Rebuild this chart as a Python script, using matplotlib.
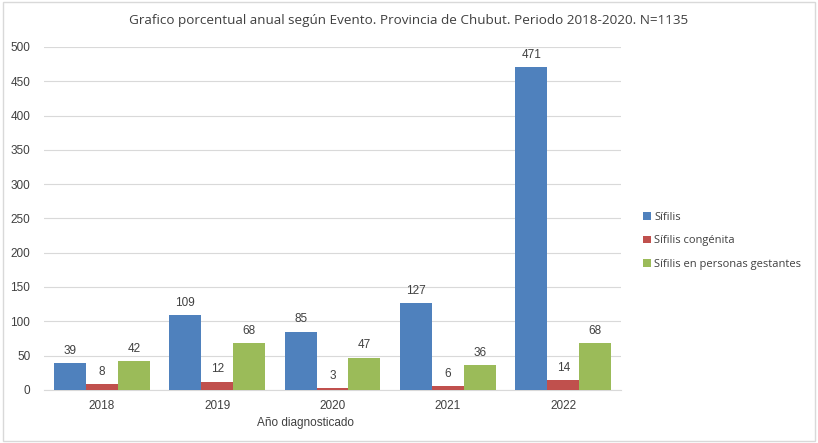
import numpy as np
import matplotlib.pyplot as plt
from matplotlib.patches import Rectangle

years = ["2018", "2019", "2020", "2021", "2022"]
sifilis = [39, 109, 85, 127, 471]
congenita = [8, 12, 3, 6, 14]
gestantes = [42, 68, 47, 36, 68]
series_names = ["Sífilis", "Sífilis congénita", "Sífilis en personas gestantes"]
colors = ["#4F81BD", "#C0504D", "#9BBB59"]

plt.rcParams["font.family"] = ["Liberation Sans", "DejaVu Sans"]
text_color = "#404040"

fig = plt.figure(figsize=(8.18, 4.43), dpi=100)
ax = fig.add_axes([0.054, 0.12, 0.705, 0.774])

x = np.arange(len(years))
w = 0.277
for i, (vals, name, c) in enumerate(zip([sifilis, congenita, gestantes], series_names, colors)):
    pos = x + (i - 1) * w
    bars = ax.bar(pos, vals, width=w, color=c, label=name, zorder=3)
    for b, v in zip(bars, vals):
        ax.text(b.get_x() + b.get_width() / 2, v + 9, str(v), ha="center", va="bottom",
                fontsize=8.5, color=text_color)

ax.set_xlim(-0.5, len(years) - 0.5)
ax.set_ylim(0, 500)
ax.set_yticks(np.arange(0, 501, 50))
ax.set_xticks(x)
ax.set_xticklabels(years)
ax.tick_params(length=0, labelsize=8.5, colors=text_color)
ax.tick_params(axis="y", pad=10)
ax.tick_params(axis="x", pad=7)
ax.grid(axis="y", color="#D9D9D9", linewidth=0.8, zorder=0)
for s in ["top", "right", "left"]:
    ax.spines[s].set_visible(False)
ax.spines["bottom"].set_color("#D9D9D9")

fig.text(0.373, 0.046, "Año diagnosticado", ha="center", va="center", fontsize=8.5, color=text_color)
fig.text(0.5, 0.953, "Grafico porcentual anual según Evento. Provincia de Chubut. Periodo 2018-2020. N=1135",
         ha="center", va="center", fontsize=9.7, color=text_color, family=["Open Sans", "DejaVu Sans"])

leg = fig.legend(loc="upper left", bbox_to_anchor=(0.774, 0.545), frameon=False,
                 handlelength=0.7, handleheight=0.7, handletextpad=0.3, labelspacing=1.15,
                 prop={"family": ["Open Sans", "DejaVu Sans"], "size": 8}, labelcolor=text_color)

fig.patches.append(Rectangle((0.004, 0.005), 0.992, 0.99, transform=fig.transFigure,
                             fill=False, edgecolor="#D9D9D9", linewidth=1))

fig.savefig("out.png", dpi=100, facecolor="white")
